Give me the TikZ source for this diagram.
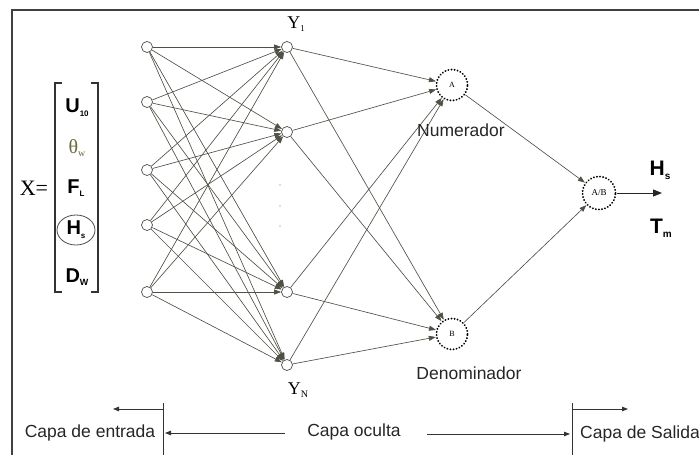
\documentclass[tikz,border=0pt]{standalone}
\usepackage{fontspec}
\setmainfont{Liberation Serif}
\setsansfont{Liberation Sans}
\usetikzlibrary{arrows.meta}
\definecolor{linec}{RGB}{80,80,70}
\definecolor{olivec}{RGB}{105,105,60}
\newcommand{\lowsub}[2][8]{\raisebox{-0.35ex}{\fontsize{#1}{#1}\selectfont #2}}
\begin{document}
\begin{tikzpicture}[x=1pt,y=-1pt,
  neuron/.style={circle,draw=black!70,fill=white,line width=0.7pt,minimum size=11pt,inner sep=0pt},
  dotnode/.style={circle,draw=black,line width=2pt,dash pattern=on 0.1pt off 3pt,line cap=round,minimum size=31pt,inner sep=0pt,font=\fontsize{8}{8}\selectfont},
  conn/.style={draw=linec,line width=0.65pt,-{Triangle[length=7pt,width=5pt]}},
  lbl/.style={font=\sffamily\fontsize{17.5}{18}\selectfont,inner sep=0pt,text=black!85},
  vec/.style={font=\sffamily\bfseries\fontsize{20}{20}\selectfont,inner sep=0pt},
  plain/.style={draw=black!80,line width=0.8pt},
  parr/.style={draw=black!80,line width=0.8pt,-{Triangle[length=6pt,width=4.5pt]}}
]
\useasboundingbox (0,0) rectangle (699,455);
% frame
\draw[black!75,line width=1.1pt] (12,455) -- (12,10) -- (699,10);

% input nodes
\node[neuron] (i1) at (147,47) {};
\node[neuron] (i2) at (147,102) {};
\node[neuron] (i3) at (147,170) {};
\node[neuron] (i4) at (147,225) {};
\node[neuron] (i5) at (147,292) {};
% hidden nodes
\node[neuron] (h1) at (287,47) {};
\node[neuron] (h2) at (287,132) {};
\node[neuron] (h3) at (287,292) {};
\node[neuron] (h4) at (287,365) {};
% dots
\foreach \yy in {185,206,226} \fill[black!55] (280,\yy) circle (0.7pt);
% labels Y
\node[inner sep=0pt,font=\fontsize{18}{18}\selectfont] (y1) at (296,24) {Y\lowsub[9]{1}};
\node[inner sep=0pt,font=\fontsize{18}{18}\selectfont] (yn) at (298,390) {Y\lowsub[10]{N}};

% output side nodes
\node[dotnode] (A) at (452,85) {A};
\node[dotnode] (B) at (452,334) {B};
\node[dotnode,minimum size=33pt,font=\fontsize{9}{9}\selectfont] (AB) at (599,193) {A/B};

% input -> hidden
\foreach \i in {1,...,5}
  \foreach \h in {1,...,4}
    \draw[conn] (i\i) -- (h\h);
% hidden -> A,B
\foreach \h in {1,...,4} {
  \draw[conn] (h\h) -- (A);
  \draw[conn] (h\h) -- (B);
}
\draw[conn] (A) -- (AB);
\draw[conn] (B) -- (AB);
\coordinate (outend) at (662,193);
\draw[draw=black!85,line width=1pt,-{Triangle[length=9pt,width=7pt]}] (AB) -- (outend);

% right labels
\node[vec,font=\sffamily\bfseries\fontsize{21}{21}\selectfont] (hs) at (660,170) {H\lowsub[10]{s}};
\node[vec,font=\sffamily\bfseries\fontsize{21}{21}\selectfont] (tm) at (661,228) {T\lowsub[10]{m}};
\node[lbl] (num) at (461,130) {Numerador};
\node[lbl] (den) at (469,373) {Denominador};

% X vector
\node[inner sep=0pt,font=\fontsize{22}{22}\selectfont] (xeq) at (34,188) {X=};
\draw[plain,line width=1.1pt] (62,83) -- (55,83) -- (55,292) -- (62,292);
\draw[plain,line width=1.1pt] (91,83) -- (98,83) -- (98,292) -- (91,292);
\node[vec] (u10) at (77,108) {U\lowsub[8]{10}};
\node[inner sep=0pt,text=olivec,font=\fontsize{20}{20}\selectfont] (thw) at (77,148) {θ\lowsub[10]{w}};
\node[vec] (fl) at (76,188) {F\lowsub[8]{L}};
\node[vec] (hsin) at (76,230) {H\lowsub[8]{s}};
\draw[black!70,line width=0.8pt] (hsin) ellipse (19pt and 15pt);
\node[vec] (dw) at (77,277) {D\lowsub[9]{W}};

% bottom layer labels
\node[lbl] (ent) at (90,433) {Capa de entrada};
\node[lbl] (ocu) at (354,432) {Capa oculta};
\node[lbl,anchor=west] (sal) at (580,434) {Capa de Salida};
\coordinate (v1t) at (163,403); \coordinate (v1b) at (163,455);
\coordinate (v2t) at (572,403); \coordinate (v2b) at (572,455);
\draw[plain] (v1t) -- (v1b);
\draw[plain] (v2t) -- (v2b);
\coordinate (a1s) at (163,409); \coordinate (a1e) at (113,409);
\coordinate (a2s) at (572,409); \coordinate (a2e) at (628,409);
\draw[parr] (a1s) -- (a1e);
\draw[parr] (a2s) -- (a2e);
\coordinate (b1s) at (285,433); \coordinate (b1e) at (165,433);
\coordinate (b2s) at (427,434); \coordinate (b2e) at (570,434);
\draw[parr] (b1s) -- (b1e);
\draw[parr] (b2s) -- (b2e);
\end{tikzpicture}
\end{document}
